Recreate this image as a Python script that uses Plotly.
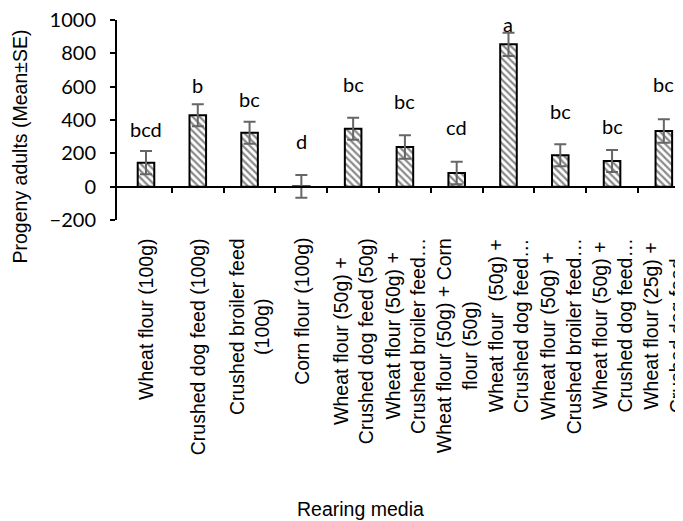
import plotly.graph_objects as go

categories = [
    "Wheat flour (100g)",
    "Crushed dog feed (100g)",
    "Crushed broiler feed<br>(100g)",
    "Corn flour (100g)",
    "Wheat flour (50g) +<br>Crushed dog feed (50g)",
    "Wheat flour (50g) +<br>Crushed broiler feed…",
    "Wheat flour (50g) + Corn<br>flour (50g)",
    "Wheat flour\u00a0 (50g) +<br>Crushed dog feed…",
    "Wheat flour (50g) +<br>Crushed broiler feed…",
    "Wheat flour (50g) +<br>Crushed dog feed…",
    "Wheat flour (25g) +<br>Crushed dog feed…",
]
means = [144, 428, 324, 2, 348, 238, 82, 854, 188, 154, 334]
se = [70, 66, 66, 68, 66, 70, 68, 70, 66, 66, 70]
letters = ["bcd", "b", "bc", "d", "bc", "bc", "cd", "a", "bc", "bc", "bc"]
letter_y = [344, 608, 524, 272, 614, 512, 356, 974, 452, 362, 614]
y_ticks = [-200, 0, 200, 400, 600, 800, 1000]

n = len(categories)
xs = list(range(n))
x_range = [-0.56, 10.37]

ARIAL = "Liberation Sans, Arial, sans-serif"
CAL = "Lato, Carlito, Calibri, sans-serif"

fig = go.Figure()
fig.add_trace(go.Bar(
    x=xs, y=means, width=0.32,
    marker=dict(
        color="white",
        line=dict(color="black", width=2),
        pattern=dict(shape="\\", fgcolor="#8a8a8a", bgcolor="white", size=5, solidity=0.45),
    ),
    error_y=dict(type="data", array=se, visible=True, color="#666666", thickness=2, width=6),
    showlegend=False, hoverinfo="skip",
))
# dummy trace to host the zero-level axis
fig.add_trace(go.Scatter(x=[], y=[], xaxis="x2", yaxis="y", showlegend=False))

annotations = []
for i in xs:
    annotations.append(dict(
        x=i, y=letter_y[i], xref="x", yref="y", text=letters[i], showarrow=False,
        xanchor="center", yanchor="middle", font=dict(family=CAL, size=20, color="black"),
    ))
    annotations.append(dict(
        x=i, y=-0.08, xref="x", yref="paper", text=categories[i], showarrow=False,
        textangle=-90, align="center", xanchor="center", yanchor="top",
        font=dict(family=ARIAL, size=19.5, color="black"),
    ))
annotations.append(dict(
    x=-0.1714, y=0.3675, xref="paper", yref="paper", text="Progeny adults (Mean±SE)",
    showarrow=False, textangle=-90, xanchor="center", yanchor="middle",
    font=dict(family=ARIAL, size=19.5, color="black"),
))
annotations.append(dict(
    x=0.431, y=-1.445, xref="paper", yref="paper", text="Rearing media",
    showarrow=False, xanchor="center", yanchor="middle",
    font=dict(family=ARIAL, size=19.5, color="black"),
))

# page body has an 8px margin, so the figure is shifted by 8px
fig.update_layout(
    template="none",
    width=675, height=513,
    margin=dict(l=109, r=0, t=12, b=301, pad=0, autoexpand=False),
    paper_bgcolor="white", plot_bgcolor="white",
    showlegend=False,
    xaxis=dict(range=x_range, showline=False, showgrid=False, zeroline=False,
               showticklabels=False, ticks="", automargin=False),
    xaxis2=dict(range=x_range, overlaying="x", anchor="free", position=1/6,
                showline=True, linecolor="black", linewidth=2,
                tickmode="array", tickvals=[i + 0.5 for i in xs[:-1]],
                ticks="outside", ticklen=5, tickwidth=2, tickcolor="black",
                showticklabels=False, showgrid=False, zeroline=False, automargin=False),
    yaxis=dict(range=[-200, 1000], tickmode="array", tickvals=y_ticks,
               showline=True, linecolor="black", linewidth=2,
               ticks="outside", ticklen=5, tickwidth=2, tickcolor="black",
               showgrid=False, zeroline=False, ticklabelstandoff=10, automargin=False,
               ticklabeloverflow="allow",
               tickfont=dict(family=CAL, size=20, color="black")),
    annotations=annotations,
)

fig.write_html("out.html")
